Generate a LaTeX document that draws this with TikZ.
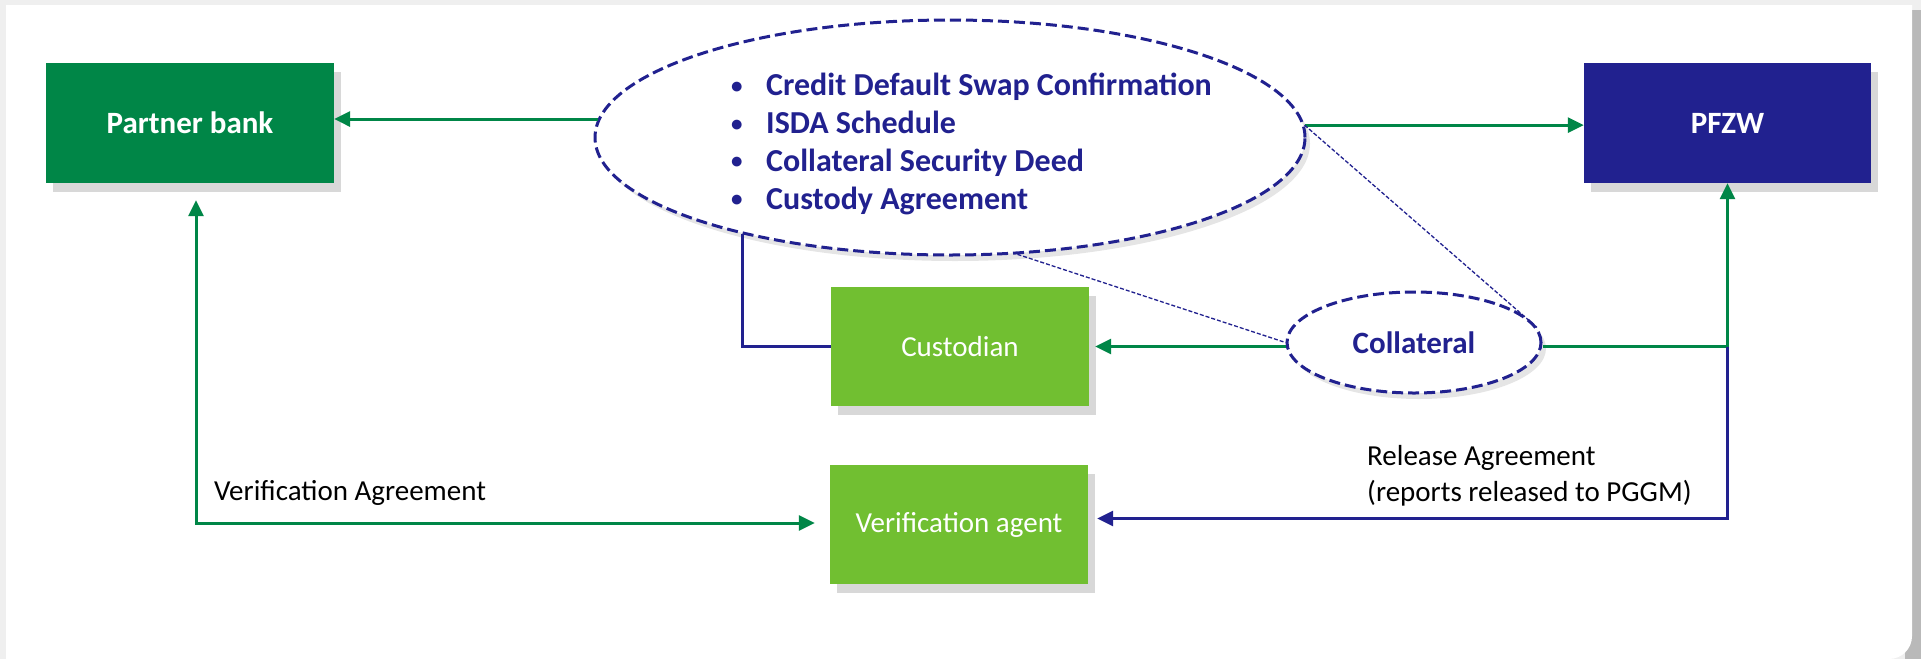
\documentclass[tikz,border=0pt]{standalone}
\usepackage{fontspec}
\setmainfont{Carlito}
\usepackage{tikz}
\usetikzlibrary{shapes.geometric,shadows,arrows.meta}
\definecolor{bankgreen}{RGB}{0,134,71}
\definecolor{pfzwblue}{RGB}{33,33,143}
\definecolor{agentgreen}{RGB}{113,191,49}
\definecolor{framegray}{RGB}{239,239,239}
\newcommand{\docbullet}{\makebox[35pt][l]{\raisebox{2.5pt}{\fontsize{23}{23}\selectfont\textbullet}}}
\tikzset{
  party/.style={rectangle, minimum width=288pt, minimum height=120pt, text=white, font=\fontsize{31}{36}\selectfont\bfseries, drop shadow={shadow xshift=7pt, shadow yshift=-9pt, opacity=0.3}},
  agent/.style={rectangle, fill=agentgreen, minimum width=258pt, minimum height=119pt, text=white, font=\fontsize{29}{35}\selectfont, drop shadow={shadow xshift=7pt, shadow yshift=-9pt, opacity=0.3}},
  doc/.style={ellipse, draw=pfzwblue, fill=white, line width=3pt, dash pattern=on 11pt off 5pt, inner sep=0pt, text=pfzwblue, font=\fontsize{31}{36}\selectfont\bfseries, drop shadow={shadow xshift=5pt, shadow yshift=-6pt, opacity=0.2}},
  gline/.style={draw=bankgreen, line width=3pt},
  nline/.style={draw=pfzwblue, line width=2.6pt},
  hint/.style={draw=pfzwblue, line width=1.3pt, dash pattern=on 4pt off 2pt},
  note/.style={anchor=west, align=left, inner sep=0pt, font=\fontsize{29}{36}\selectfont}
}

\begin{document}
\begin{tikzpicture}[x=1pt, y=-1pt, >={Triangle[length=16pt,width=15pt]}]
\fill[framegray] (0,0) rectangle (1921,659);
\useasboundingbox (0,0) rectangle (1921,659);
\fill[gray!55] (1905,10) rectangle (1921,659);
\fill[white] (6,5) -- (1912,5) -- (1912,300) [rounded corners=23pt] -- (1912,659) -- (900,659) [sharp corners] -- (6,659) -- cycle;

\node[party, fill=bankgreen] (bank) at (190,123) {Partner bank};
\node[party, fill=pfzwblue, minimum width=287pt] (pfzw) at (1727.5,123) {PFZW};
\node[doc, minimum width=710pt, minimum height=235pt] (docs) at (950,137.5) {};
\node[anchor=west, align=left, inner sep=0pt, text=pfzwblue, font=\fontsize{32}{37.7}\selectfont\bfseries] (doclist) at (731,144) {%
\docbullet Credit Default Swap Confirmation\\
\docbullet ISDA Schedule\\
\docbullet Collateral Security Deed\\
\docbullet Custody Agreement};
\node[doc, minimum width=254pt, minimum height=101pt] (coll) at (1414,342.5) {Collateral};
\node[agent] (cust) at (960,346.5) {Custodian};
\node[agent] (ver) at (959,524.5) {Verification agent};
\node[note] (verlbl) at (214,493) {Verification Agreement};
\node[note] (rellbl) at (1367,476) {Release Agreement\\(reports released to PGGM)};

\draw[gline,->] (docs.177.6) -- (docs.177.6 -| bank.east);
\draw[gline,->] (docs.2.4) -- (docs.2.4 -| pfzw.west);
\draw[hint] (docs.2.4) -- (coll.7);
\draw[hint] (docs.300.6) -- (coll.west);
\draw[nline] (docs.205.6) |- (cust.west);
\draw[gline,->,shorten >=6pt] (coll.west |- cust.east) -- (cust.east);
\coordinate (split) at (pfzw.south |- cust.east);
\draw[gline,->] (coll.east |- cust.east) -| (pfzw.south);
\draw[nline,->,shorten >=9pt] (split) |- ([yshift=6pt]ver.east);
\draw[gline,<->,shorten <=17pt,shorten >=15pt] ([xshift=6pt]bank.south) |- ([yshift=1.5pt]ver.west);
\end{tikzpicture}
\end{document}
